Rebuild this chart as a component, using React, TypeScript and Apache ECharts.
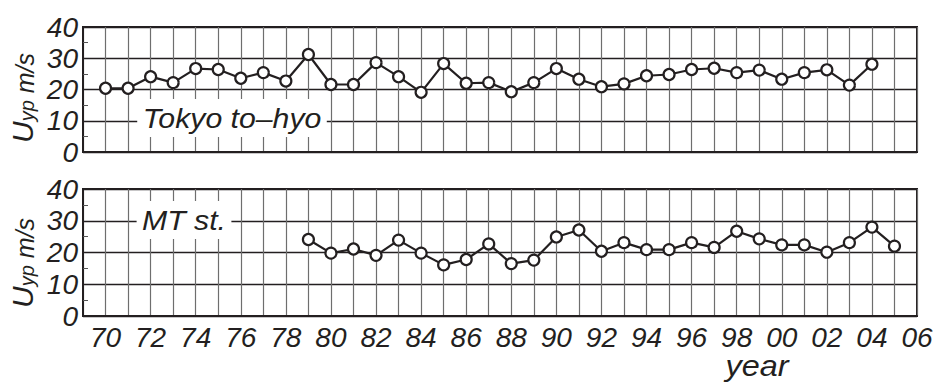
import React, { useEffect, useRef } from "react";
import * as echarts from "echarts";

const tokyoYears = [1970,1971,1972,1973,1974,1975,1976,1977,1978,1979,1980,1981,1982,1983,1984,1985,1986,1987,1988,1989,1990,1991,1992,1993,1994,1995,1996,1997,1998,1999,2000,2001,2002,2003,2004];
const tokyoValues = [20.4,20.4,24.1,22.2,26.7,26.4,23.6,25.4,22.7,31.2,21.6,21.6,28.6,24.1,19.1,28.3,22.0,22.2,19.3,22.2,26.7,23.3,20.9,21.8,24.4,24.8,26.4,26.8,25.4,26.2,23.3,25.4,26.3,21.4,28.1];

const mtYears = [1979,1980,1981,1982,1983,1984,1985,1986,1987,1988,1989,1990,1991,1992,1993,1994,1995,1996,1997,1998,1999,2000,2001,2002,2003,2004,2005];
const mtValues = [24.1,19.8,21.1,19.1,23.9,19.8,16.1,17.8,22.7,16.5,17.6,24.9,27.1,20.4,23.1,20.9,20.9,23.1,21.6,26.7,24.3,22.4,22.4,20.1,23.1,28.0,22.0];

const xLabelYears = [1970,1972,1974,1976,1978,1980,1982,1984,1986,1988,1990,1992,1994,1996,1998,2000,2002,2004,2006];
const yTicks = [0, 10, 20, 30, 40];

const FONT = '"Liberation Sans", Arial, sans-serif';
const INK = "#231f20";

export default function App() {
  const ref = useRef<HTMLDivElement>(null);
  useEffect(() => {
    if (!ref.current) return;
    const chart = echarts.init(ref.current, null, { renderer: "svg" });
    const xAxisBase = (gridIndex: number, showLabels: boolean) => ({
      type: "value",
      gridIndex,
      min: 1969,
      max: 2006,
      interval: 1,
      axisLine: { show: true, lineStyle: { color: INK, width: 2 } },
      axisTick: { show: false },
      splitLine: { show: true, lineStyle: { color: "#6e6e6e", width: 1.2 } },
      axisLabel: {
        show: showLabels,
        margin: 7,
        fontSize: 28,
        fontStyle: "italic",
        fontFamily: FONT,
        color: INK,
        formatter: (v: number) =>
          xLabelYears.includes(v) ? String(v % 100).padStart(2, "0") : "",
      },
    });
    const yAxisBase = (gridIndex: number) => ({
      type: "value",
      gridIndex,
      min: yTicks[0],
      max: yTicks[yTicks.length - 1],
      interval: 10,
      axisLine: { show: true, lineStyle: { color: INK, width: 2 } },
      axisTick: { show: false, inside: true },
      minorTick: { show: true, splitNumber: 2, length: 5, lineStyle: { color: "#555", width: 1 } },
      splitLine: { show: true, lineStyle: { color: INK, width: 1.4 } },
      axisLabel: {
        margin: 5,
        fontSize: 28,
        fontStyle: "italic",
        fontFamily: FONT,
        color: INK,
      },
    });
    const seriesStyle = {
      type: "line",
      symbol: "circle",
      symbolSize: 11,
      lineStyle: { color: INK, width: 2.2 },
      itemStyle: { color: "#ffffff", borderColor: INK, borderWidth: 2.2 },
      z: 5,
    };
    const yName = (y: number) => ({
      type: "text",
      x: 22,
      y,
      rotation: Math.PI / 2,
      z: 100,
      style: {
        text: "{u|U}{s|yp}{m| m/s}",
        align: "center",
        verticalAlign: "middle",
        fill: INK,
        fontStyle: "italic",
        fontSize: 28,
        fontFamily: FONT,
        rich: {
          u: { fontStyle: "italic", fontFamily: FONT, fontSize: 30, fill: INK, lineHeight: 30, verticalAlign: "bottom" },
          s: { fontStyle: "italic", fontFamily: FONT, fontSize: 20, fill: INK, lineHeight: 20, verticalAlign: "bottom" },
          m: { fontStyle: "italic", fontFamily: FONT, fontSize: 25, fill: INK, lineHeight: 25, verticalAlign: "bottom" },
        },
      },
    });
    const label = (text: string, x: number, y: number) => ({
      type: "text",
      x,
      y,
      z: 100,
      scaleX: 1.08,
      style: {
        text,
        align: "center",
        verticalAlign: "middle",
        fontStyle: "italic",
        fontSize: 28,
        fontFamily: FONT,
        fill: INK,
        backgroundColor: "#ffffff",
        padding: [6, 5, 4, 5],
      },
    });
    chart.setOption({
      animation: false,
      backgroundColor: "#ffffff",
      grid: [
        { left: 83, top: 27, width: 834, height: 125, show: true, borderColor: INK, borderWidth: 2, backgroundColor: "transparent" },
        { left: 83, top: 189, width: 834, height: 127, show: true, borderColor: INK, borderWidth: 2, backgroundColor: "transparent" },
      ],
      xAxis: [xAxisBase(0, false), xAxisBase(1, true)],
      yAxis: [yAxisBase(0), yAxisBase(1)],
      series: [
        { ...seriesStyle, name: "Tokyo to-hyo", xAxisIndex: 0, yAxisIndex: 0, data: tokyoYears.map((y, i) => [y, tokyoValues[i]]) },
        { ...seriesStyle, name: "MT st.", xAxisIndex: 1, yAxisIndex: 1, data: mtYears.map((y, i) => [y, mtValues[i]]) },
      ],
      graphic: [
        yName(98),
        yName(263),
        label("Tokyo to\u2013hyo", 232, 118),
        label("MT st.", 184, 220),
        {
          type: "text",
          x: 757,
          y: 366,
          scaleX: 1.12,
          style: {
            text: "year",
            align: "center",
            verticalAlign: "middle",
            fontStyle: "italic",
            fontSize: 29,
            fontFamily: FONT,
            fill: INK,
          },
        },
      ],
    });
    return () => chart.dispose();
  }, []);
  return (
    <div
      ref={ref}
      style={{ position: "fixed", left: 0, top: 0, width: 938, height: 385, background: "#fff" }}
    />
  );
}
